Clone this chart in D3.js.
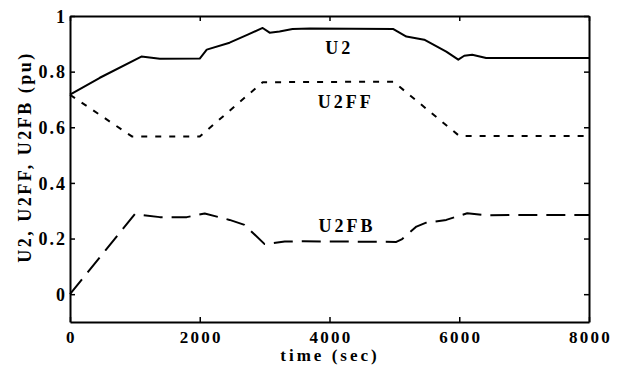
<!DOCTYPE html>
<html>
<head>
<meta charset="utf-8">
<script src="https://cdn.jsdelivr.net/npm/d3@7"></script>
<style>
  body { margin: 0; background: #fff; }
  text { font-family: "Liberation Serif", "DejaVu Serif", serif; font-weight: bold; fill: #000; }
</style>
</head>
<body>
<div id="chart"></div>
<script>
// values
const timeU2 = [0, 460, 1100, 1385, 2000, 2108, 2460, 2740, 2970, 3077, 3230, 3430, 3700, 4985, 5185, 5460, 5800, 5985, 6077, 6200, 6415, 8000];
const u2 = [0.717, 0.778, 0.854, 0.846, 0.847, 0.879, 0.904, 0.933, 0.957, 0.94, 0.944, 0.953, 0.955, 0.953, 0.926, 0.915, 0.872, 0.843, 0.857, 0.861, 0.849, 0.849];

const timeFF = [0, 954, 2000, 2970, 4985, 6000, 8000];
const u2ff = [0.717, 0.567, 0.567, 0.762, 0.764, 0.569, 0.569];

const timeFB = [0, 1000, 1385, 1800, 2077, 2460, 2690, 3000, 3310, 3600, 5030, 5120, 5340, 5490, 5800, 6123, 6415, 8000];
const u2fb = [0, 0.288, 0.277, 0.277, 0.29, 0.267, 0.249, 0.18, 0.189, 0.19, 0.188, 0.198, 0.243, 0.257, 0.267, 0.291, 0.284, 0.285];

const xTicks = [0, 2000, 4000, 6000, 8000];
const yTicks = [0, 0.2, 0.4, 0.6, 0.8, 1];

const width = 618;
const height = 372;
const margin = { top: 16, right: 29, bottom: 50, left: 70 };

const svg = d3.select("#chart")
    .append("svg")
    .attr("width", width)
    .attr("height", height);

const x = d3.scaleLinear()
    .domain([0, 8000])
    .range([margin.left, width - margin.right]);

const y = d3.scaleLinear()
    .domain([-0.1, 1])
    .range([height - margin.bottom, margin.top]);

// inward ticks on all four sides, labels only bottom/left
svg.append("g")
    .attr("transform", `translate(0,${height - margin.bottom})`)
    .call(d3.axisBottom(x).tickValues(xTicks).tickSizeInner(-5).tickSizeOuter(0).tickPadding(9).tickFormat(d3.format("d")))
    .call(g => g.selectAll("text").attr("font-size", 17).attr("dx", "1px").style("letter-spacing", "2.3px"));

svg.append("g")
    .attr("transform", `translate(${margin.left},0)`)
    .call(d3.axisLeft(y).tickValues(yTicks).tickSizeInner(-5).tickSizeOuter(0).tickPadding(3).tickFormat(d => d === 0 || d === 1 ? d : d3.format(".1f")(d)))
    .call(g => g.selectAll("text").attr("font-size", 18).attr("dy", "0.35em").style("letter-spacing", "2px"));

svg.append("g")
    .attr("transform", `translate(0,${margin.top})`)
    .call(d3.axisTop(x).tickValues(xTicks).tickSizeInner(-5).tickSizeOuter(0).tickFormat(""));

svg.append("g")
    .attr("transform", `translate(${width - margin.right},0)`)
    .call(d3.axisRight(y).tickValues(yTicks).tickSizeInner(-5).tickSizeOuter(0).tickFormat(""));

svg.selectAll(".domain").attr("stroke", "#000").attr("stroke-width", 2);
svg.selectAll(".tick line").attr("stroke", "#000").attr("stroke-width", 1.5);

const line = d3.line()
    .x(d => x(d[0]))
    .y(d => y(d[1]));

const plot = svg.append("g").attr("fill", "none").attr("stroke", "#000").attr("stroke-width", 2).attr("stroke-linejoin", "round");

plot.append("path")
    .attr("d", line(d3.zip(timeU2, u2)));

plot.append("path")
    .attr("stroke-dasharray", "6,8")
    .attr("d", line(d3.zip(timeFF, u2ff)));

plot.append("path")
    .attr("stroke-dasharray", "19,9")
    .attr("d", line(d3.zip(timeFB, u2fb)));

// series labels
const labels = [
    { name: "U2", t: 4150, v: 0.865 },
    { name: "U2FF", t: 4250, v: 0.67 },
    { name: "U2FB", t: 4270, v: 0.223 }
];
svg.append("g")
    .selectAll("text")
    .data(labels)
    .join("text")
    .attr("x", d => x(d.t))
    .attr("y", d => y(d.v))
    .attr("text-anchor", "middle")
    .attr("font-size", 18)
    .style("letter-spacing", "3px")
    .text(d => d.name);

svg.append("text")
    .attr("x", 330)
    .attr("y", 361)
    .attr("text-anchor", "middle")
    .attr("font-size", 17)
    .style("letter-spacing", "3px")
    .text("time (sec)");

svg.append("text")
    .attr("transform", `translate(25,157) rotate(-90)`)
    .attr("text-anchor", "middle")
    .attr("dy", "0.35em")
    .attr("font-size", 18)
    .style("letter-spacing", "2.5px")
    .text("U2, U2FF, U2FB (pu)");
</script>
</body>
</html>
